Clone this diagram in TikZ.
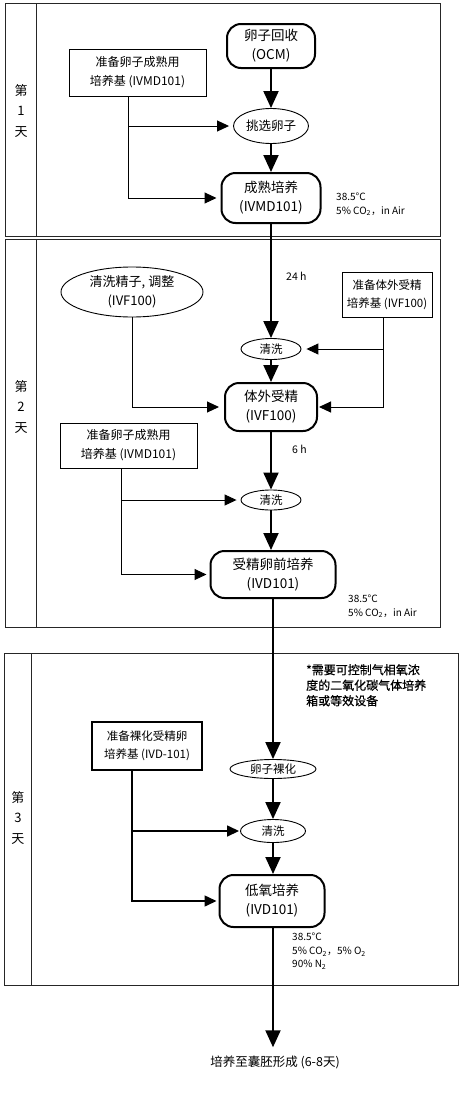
\documentclass[tikz,border=0pt]{standalone}
\usepackage{fontspec}
\setmainfont{Noto Sans CJK SC}
\newfontfamily\notefont[FakeBold=0.6]{Noto Sans CJK SC}
\usetikzlibrary{arrows.meta,shapes.geometric}
\tikzset{
  sec/.style={draw=black!85, line width=1pt},
  mainbox/.style={draw, rounded corners=14pt, line width=2pt, align=center, inner sep=0pt, font=\fontsize{13.5}{19}\selectfont},
  sidebox/.style={draw, line width=0.9pt, align=center, inner sep=0pt, font=\fontsize{12}{19}\selectfont},
  oval/.style={draw, ellipse, line width=0.9pt, inner sep=0pt, align=center},
  bigarrow/.style={line width=2pt, -{Triangle[length=17pt,width=15pt]}},
  thinarrow/.style={line width=1pt, -{Triangle[length=12pt,width=11pt]}},
  cond/.style={anchor=north west, align=left, inner sep=0pt, font=\fontsize{10}{13.5}\selectfont},
  daylabel/.style={align=center, inner sep=0pt, font=\fontsize{13}{20.5}\selectfont},
  small/.style={anchor=west, inner sep=0pt, font=\fontsize{10.5}{12}\selectfont}
}
\begin{document}
\begin{tikzpicture}[x=1pt,y=-1pt]
\useasboundingbox (0,0) rectangle (473,1095);
\fill[white] (0,0) rectangle (473,1095);
% sections
\draw[sec] (5,3) rectangle (440,236);
\draw[sec] (36,3) -- (36,236);
\draw[sec] (5,239) rectangle (440,627);
\draw[sec] (36,239) -- (36,627);
\draw[sec] (4,653) rectangle (458,985);
\draw[sec] (31,653) -- (31,985);
\node[daylabel] (d1) at (21,111) {第\\1\\天};
\node[daylabel] (d2) at (21,407) {第\\2\\天};
\node[daylabel] (d3) at (18,818) {第\\3\\天};

% Day 1
\node[mainbox, minimum width=88pt, minimum height=44pt] (ocm) at (271,46) {卵子回收\\(OCM)};
\node[sidebox, minimum width=137pt, minimum height=47pt] (ivmd1) at (137.5,72.5) {准备卵子成熟用\\培养基 (IVMD101)};
\node[oval, minimum width=75pt, minimum height=35pt, font=\fontsize{12.5}{15}\selectfont] (select) at (271,126) {挑选卵子};
\node[mainbox, minimum width=99pt, minimum height=50pt] (mature) at (271,198) {成熟培养\\(IVMD101)};
\node[cond] (c1) at (336,193) {38.5°C\\5\% CO\textsubscript{2}，in Air};

% Day 2
\node[small] (t24) at (286,276) {24 h};
\node[oval, minimum width=142pt, minimum height=50pt, font=\fontsize{13}{19}\selectfont] (sperm) at (132,292) {清洗精子, 调整\\(IVF100)};
\node[sidebox, minimum width=90pt, minimum height=45pt, font=\fontsize{11.5}{18}\selectfont] (ivfbox) at (387,294.5) {准备体外受精\\培养基 (IVF100)};
\node[oval, minimum width=60pt, minimum height=21pt, font=\fontsize{11.5}{14}\selectfont] (wash1) at (271,349) {清洗};
\node[mainbox, minimum width=92pt, minimum height=48pt] (ivf) at (271,407) {体外受精\\(IVF100)};
\node[sidebox, minimum width=137pt, minimum height=45pt] (ivmd2) at (128.5,445.5) {准备卵子成熟用\\培养基 (IVMD101)};
\node[small] (t6) at (292,449) {6 h};
\node[oval, minimum width=60pt, minimum height=20pt, font=\fontsize{11.5}{14}\selectfont] (wash2) at (271,500) {清洗};
\node[mainbox, minimum width=125pt, minimum height=47pt] (ivd) at (273,574.5) {受精卵前培养\\(IVD101)};
\node[cond] (c2) at (348,595) {38.5°C\\5\% CO\textsubscript{2}，in Air};

% Day 3
\node[anchor=north west, align=left, inner sep=0pt, font=\fontsize{12}{15.5}\notefont] (note) at (306,664) {*需要可控制气相氧浓\\度的二氧化碳气体培养\\箱或等效设备};
\node[sidebox, line width=1.5pt, minimum width=110pt, minimum height=48pt, font=\fontsize{11.5}{18}\selectfont] (ivd101) at (147,746) {准备裸化受精卵\\培养基 (IVD-101)};
\node[oval, minimum width=86pt, minimum height=19pt, font=\fontsize{11.5}{14}\selectfont] (denude) at (273,769) {卵子裸化};
\node[oval, minimum width=65pt, minimum height=23pt, font=\fontsize{11.5}{14}\selectfont] (wash3) at (273,831) {清洗};
\node[mainbox, minimum width=105pt, minimum height=52pt] (hyp) at (272,901) {低氧培养\\(IVD101)};
\node[cond] (c3) at (292,933) {38.5°C\\5\% CO\textsubscript{2}，5\% O\textsubscript{2}\\90\% N\textsubscript{2}};
\node[inner sep=0pt, font=\fontsize{12.5}{15}\selectfont] (final) at (275,1062) {培养至囊胚形成 (6-8天)};

% main flow
\draw[bigarrow] (ocm.south) -- (ocm.south |- select.north);
\draw[bigarrow] (select.south) -- (mature.north);
\draw[bigarrow] (mature.south) -- (wash1.north);
\draw[bigarrow] (wash1.south) -- (ivf.north);
\draw[bigarrow] (ivf.south) -- (wash2.north);
\draw[bigarrow] (wash2.south) -- (wash2.south |- ivd.north);
\draw[bigarrow] (ivd.south) -- (ivd.south |- denude.north);
\draw[bigarrow] (denude.south) -- (wash3.north);
\draw[bigarrow] (wash3.south) -- (wash3.south |- hyp.north);
\draw[bigarrow, shorten >=8pt] (wash3.south |- hyp.south) -- (wash3.south |- final.north);

% side feeds
\draw[thinarrow, shorten >=4pt] ([xshift=-9.5pt]ivmd1.south) |- (select.west);
\draw[thinarrow, shorten >=4pt] ([xshift=-9.5pt]ivmd1.south) |- (mature.west);
\draw[thinarrow, shorten >=5pt] (sperm.south) |- (ivf.west);
\draw[thinarrow, shorten >=5pt] ([xshift=-4pt]ivfbox.south) |- (wash1.east);
\draw[thinarrow, shorten >=1pt] ([xshift=-4pt]ivfbox.south) |- (ivf.east);
\draw[thinarrow, shorten >=4pt] ([xshift=-7.5pt]ivmd2.south) |- (wash2.west);
\draw[thinarrow, shorten >=3pt] ([xshift=-7.5pt]ivmd2.south) |- (ivd.west);
\draw[thinarrow, line width=1.5pt, shorten >=1pt] ([xshift=-15pt]ivd101.south) |- (wash3.west);
\draw[thinarrow, line width=1.5pt, shorten >=2pt] ([xshift=-15pt]ivd101.south) |- (hyp.west);
\end{tikzpicture}
\end{document}
